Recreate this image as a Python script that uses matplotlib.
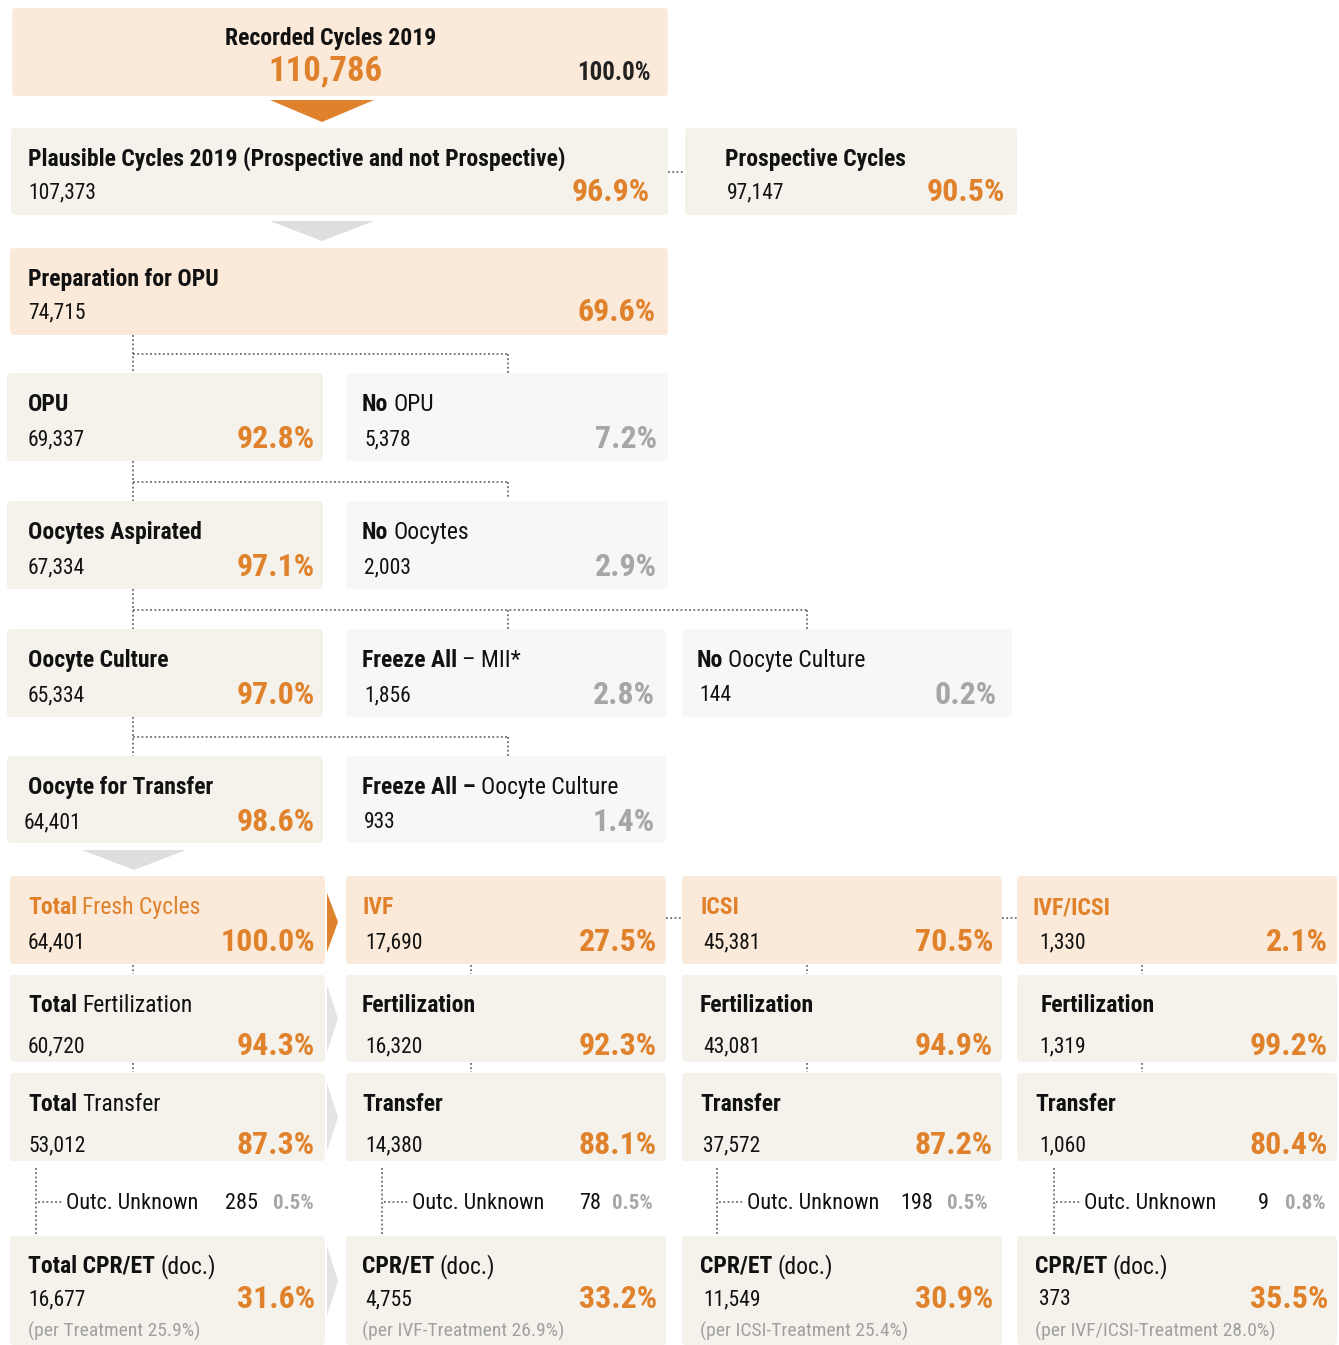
import matplotlib
matplotlib.use("Agg")
import matplotlib.pyplot as plt
from matplotlib.patches import FancyBboxPatch, Polygon
from matplotlib import font_manager as fm

# ---------------- data ----------------
recorded_count = 110786
recorded_pct = 100.0
plausible_count, plausible_pct = 107373, 96.9
prospective_count, prospective_pct = 97147, 90.5
prep_count, prep_pct = 74715, 69.6
opu_count, opu_pct = 69337, 92.8
no_opu_count, no_opu_pct = 5378, 7.2
asp_count, asp_pct = 67334, 97.1
no_oocyte_count, no_oocyte_pct = 2003, 2.9
culture_count, culture_pct = 65334, 97.0
freeze_mii_count, freeze_mii_pct = 1856, 2.8
no_culture_count, no_culture_pct = 144, 0.2
for_transfer_count, for_transfer_pct = 64401, 98.6
freeze_cult_count, freeze_cult_pct = 933, 1.4

col_titles = ["Fresh Cycles", "IVF", "ICSI", "IVF/ICSI"]
fresh_counts = [64401, 17690, 45381, 1330]
fresh_pcts = [100.0, 27.5, 70.5, 2.1]
fert_counts = [60720, 16320, 43081, 1319]
fert_pcts = [94.3, 92.3, 94.9, 99.2]
transfer_counts = [53012, 14380, 37572, 1060]
transfer_pcts = [87.3, 88.1, 87.2, 80.4]
unknown_counts = [285, 78, 198, 9]
unknown_pcts = [0.5, 0.5, 0.5, 0.8]
cpr_counts = [16677, 4755, 11549, 373]
cpr_pcts = [31.6, 33.2, 30.9, 35.5]
per_labels = ["Treatment", "IVF-Treatment", "ICSI-Treatment", "IVF/ICSI-Treatment"]
per_pcts = [25.9, 26.9, 25.4, 28.0]

# ---------------- style ----------------
names = {f.name for f in fm.fontManager.ttflist}
FONT = "Liberation Sans"
for cand in ["Roboto Condensed", "PT Sans Narrow", "Open Sans Condensed", "Liberation Sans"]:
    if cand in names:
        FONT = cand
        break

PEACH = "#FBE9D9"
CREAM = "#F5F2EC"
LIGHT = "#F8F7F5"
ORANGE = "#E0822C"
GRAYP = "#A6A6A6"
GRAYT = "#A0A0A0"
DARK = "#111111"
DOT = "#555555"

S_TITLE = 17
S_NUM = 15.5
S_PCT = 23

W, H = 1339, 1345
fig = plt.figure(figsize=(W / 100, H / 100), dpi=100)
ax = fig.add_axes([0, 0, 1, 1])
ax.set_xlim(0, W)
ax.set_ylim(H, 0)
ax.axis("off")
renderer = fig.canvas.get_renderer()


def fmt(v):
    return f"{v:,}"


def pfmt(p):
    return f"{p:.1f}%"


def box(x0, y0, x1, y1, color):
    ax.add_patch(FancyBboxPatch((x0, y0), x1 - x0, y1 - y0,
                                boxstyle="round,pad=0,rounding_size=4",
                                fc=color, ec="none", zorder=1))


def rich(x, y, parts, size):
    cx = x
    for s, w, c in parts:
        t = ax.text(cx, y, s, fontsize=size, fontweight=w, color=c,
                    ha="left", va="baseline", family=FONT, zorder=3)
        bb = t.get_window_extent(renderer)
        cx += bb.width + size * 0.30


def txt(x, y, s, size, weight="normal", color=DARK, ha="left"):
    ax.text(x, y, s, fontsize=size, fontweight=weight, color=color,
            ha=ha, va="baseline", family=FONT, zorder=3)


def dotted(xs, ys):
    ax.plot(xs, ys, color=DOT, lw=1.1, ls=(0, (1.2, 1.6)), zorder=2)


def tri(pts, color):
    ax.add_patch(Polygon(pts, closed=True, fc=color, ec="none", zorder=2))


def node(x0, y0, x1, y1, color, title_parts, count, pct, pct_color,
         tx=28, nx=28, px=None, tdy=38, ndy=72, pdy=75):
    box(x0, y0, x1, y1, color)
    rich(tx, y0 + tdy, title_parts, S_TITLE)
    txt(nx, y0 + ndy, fmt(count), S_NUM)
    txt(px if px else x1 - 10, y0 + pdy, pfmt(pct), S_PCT, "bold", pct_color, ha="right")


B = "bold"
N = "normal"

# Recorded
box(12, 8, 668, 96, PEACH)
txt(331, 45, "Recorded Cycles 2019", S_TITLE, B, DARK, ha="center")
txt(325, 80, fmt(recorded_count), 25, B, ORANGE, ha="center")
txt(651, 80, pfmt(recorded_pct), 18, B, "#222222", ha="right")
tri([(270, 100), (374, 100), (322, 122)], ORANGE)

# Plausible / Prospective
node(11, 128, 668, 215, CREAM, [("Plausible Cycles 2019 (Prospective and not Prospective)", B, DARK)],
     plausible_count, plausible_pct, ORANGE, px=650, ndy=70, pdy=73)
dotted([668, 685], [172, 172])
node(685, 128, 1017, 215, CREAM, [("Prospective Cycles", B, DARK)],
     prospective_count, prospective_pct, ORANGE, tx=725, nx=727, px=1005, ndy=70, pdy=73)
tri([(270, 221), (374, 221), (322, 241)], "#DEDEDE")

# Preparation
node(10, 248, 668, 335, PEACH, [("Preparation for OPU", B, DARK)],
     prep_count, prep_pct, ORANGE, px=656, ndy=70, pdy=73)
dotted([133, 133], [335, 373])
dotted([133, 508], [354, 354])
dotted([508, 508], [354, 373])

# OPU row
node(7, 373, 323, 461, CREAM, [("OPU", B, DARK)], opu_count, opu_pct, ORANGE, px=315)
node(346, 373, 668, 461, LIGHT, [("No", B, DARK), ("OPU", N, DARK)], no_opu_count, no_opu_pct,
     GRAYP, tx=362, nx=364, px=657)
dotted([133, 133], [461, 501])
dotted([133, 508], [482, 482])
dotted([508, 508], [482, 498])

# Oocytes row
node(7, 501, 323, 589, CREAM, [("Oocytes Aspirated", B, DARK)], asp_count, asp_pct, ORANGE, px=315)
node(346, 501, 668, 589, LIGHT, [("No", B, DARK), ("Oocytes", N, DARK)], no_oocyte_count,
     no_oocyte_pct, GRAYP, tx=362, nx=364, px=657)
dotted([133, 133], [589, 629])
dotted([133, 807], [610, 610])
dotted([508, 508], [610, 629])
dotted([807, 807], [610, 629])

# Culture row
node(7, 629, 323, 717, CREAM, [("Oocyte Culture", B, DARK)], culture_count, culture_pct, ORANGE, px=315)
node(346, 629, 666, 717, LIGHT, [("Freeze All", B, DARK), ("\u2013 MII*", N, DARK)], freeze_mii_count,
     freeze_mii_pct, GRAYP, tx=362, nx=364, px=655)
node(682, 629, 1012, 717, LIGHT, [("No", B, DARK), ("Oocyte Culture", N, DARK)], no_culture_count,
     no_culture_pct, GRAYP, tx=697, nx=699, px=997)
dotted([133, 133], [717, 756])
dotted([133, 508], [737, 737])
dotted([508, 508], [737, 756])

# Transfer row
node(7, 756, 323, 843, CREAM, [("Oocyte for Transfer", B, DARK)], for_transfer_count, for_transfer_pct,
     ORANGE, nx=24, px=315)
node(346, 756, 666, 843, LIGHT, [("Freeze All \u2013", B, DARK), ("Oocyte Culture", N, DARK)],
     freeze_cult_count, freeze_cult_pct, GRAYP, tx=362, nx=364, px=655)
tri([(82, 850), (186, 850), (134, 870)], "#DEDEDE")

# four columns
cols_x = [(10, 325), (346, 666), (682, 1002), (1017, 1337)]
title_x = [28, 362, 700, 1033]
num_x = [28, 365, 703, 1039]
pct_x = [315, 657, 993, 1328]
mid_x = [133, 471, 807, 1142]
rowA, rowB, rowC, rowD = (876, 964), (975, 1062), (1073, 1161), (1236, 1345)

for i in range(4):
    x0, x1 = cols_x[i]
    # row A
    box(x0, rowA[0], x1, rowA[1], PEACH)
    if i == 0:
        rich(title_x[i], rowA[0] + 38, [("Total", B, ORANGE), (col_titles[i], N, ORANGE)], S_TITLE)
    else:
        rich(title_x[i], rowA[0] + 38, [(col_titles[i], B, ORANGE)], S_TITLE)
    txt(num_x[i], rowA[0] + 72, fmt(fresh_counts[i]), S_NUM)
    txt(pct_x[i], rowA[0] + 75, pfmt(fresh_pcts[i]), S_PCT, B, ORANGE, ha="right")
    # row B
    box(x0, rowB[0], x1, rowB[1], CREAM)
    tparts = [("Total", B, DARK), ("Fertilization", N, DARK)] if i == 0 else [("Fertilization", B, DARK)]
    rich(title_x[i] + (8 if i == 3 else 0), rowB[0] + 37, tparts, S_TITLE)
    txt(num_x[i], rowB[0] + 77, fmt(fert_counts[i]), S_NUM)
    txt(pct_x[i], rowB[0] + 80, pfmt(fert_pcts[i]), S_PCT, B, ORANGE, ha="right")
    # row C
    box(x0, rowC[0], x1, rowC[1], CREAM)
    tparts = [("Total", B, DARK), ("Transfer", N, DARK)] if i == 0 else [("Transfer", B, DARK)]
    rich(title_x[i] + (2 if i == 3 else 0), rowC[0] + 38, tparts, S_TITLE)
    txt(num_x[i], rowC[0] + 78, fmt(transfer_counts[i]), S_NUM)
    txt(pct_x[i], rowC[0] + 81, pfmt(transfer_pcts[i]), S_PCT, B, ORANGE, ha="right")
    # connectors
    dotted([mid_x[i], mid_x[i]], [rowA[1] + 1, rowB[0] - 1])
    dotted([mid_x[i], mid_x[i]], [rowB[1] + 1, rowC[0] - 1])
    # outcome unknown
    vx = [36, 382, 717, 1054][i]
    dotted([vx, vx], [1168, 1234])
    dotted([vx + 2, vx + 26], [1202, 1202])
    txt(vx + 30, 1209, "Outc. Unknown", 16)
    txt([258, 601, 933, 1269][i], 1209, fmt(unknown_counts[i]), 16, ha="right")
    txt([314, 653, 988, 1325][i], 1209, pfmt(unknown_pcts[i]), 15, B, GRAYP, ha="right")
    # row D
    box(x0, rowD[0], x1, rowD[1], CREAM)
    tparts = [("Total CPR/ET", B, DARK), ("(doc.)", N, DARK)] if i == 0 else [("CPR/ET", B, DARK), ("(doc.)", N, DARK)]
    rich(title_x[i] + (2 if i == 3 else 0), rowD[0] + 37, tparts, S_TITLE)
    txt(num_x[i], rowD[0] + 69, fmt(cpr_counts[i]), S_NUM)
    txt(pct_x[i], rowD[0] + 72, pfmt(cpr_pcts[i]), S_PCT, B, ORANGE, ha="right")
    txt(title_x[i] + (2 if i == 3 else 0), rowD[0] + 101,
        f"(per {per_labels[i]} {per_pcts[i]:.1f}%)", 14, color=GRAYT)

# arrows between col1 and col2
tri([(327, 893), (338, 922), (327, 952)], ORANGE)
for (a, b) in [(985, 1052), (1083, 1151), (1246, 1316)]:
    tri([(327, a), (338, (a + b) / 2), (327, b)], "#E4E4E4")
dotted([666, 682], [918, 918])
dotted([1002, 1017], [918, 918])

fig.savefig("out.png", dpi=100)
